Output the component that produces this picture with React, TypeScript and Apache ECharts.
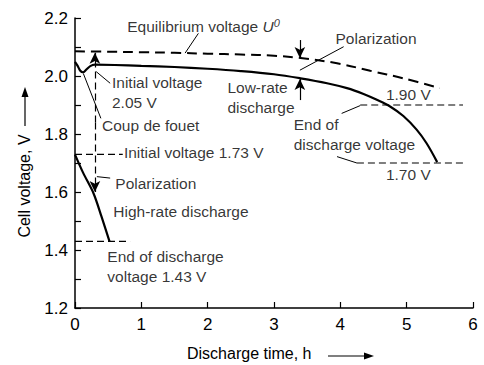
import React, { useEffect, useRef } from "react";
import * as echarts from "echarts";

const FONT = '"Liberation Sans", Arial, Helvetica, sans-serif';

// Discharge time (h) and cell voltage (V)
const lowRateTime = [0, 0.04, 0.08, 0.12, 0.17, 0.23, 0.3, 0.6, 1.0, 1.5, 2.0, 2.5, 3.0, 3.4, 3.8, 4.1, 4.35, 4.55, 4.75, 4.95, 5.15, 5.3, 5.46];
const lowRateVolt = [2.049, 2.035, 2.018, 2.013, 2.022, 2.034, 2.039, 2.038, 2.035, 2.031, 2.025, 2.017, 2.006, 1.992, 1.975, 1.958, 1.938, 1.918, 1.895, 1.862, 1.815, 1.768, 1.703];

const highRateTime = [0, 0.125, 0.28, 0.4, 0.52];
const highRateVolt = [1.729, 1.665, 1.595, 1.515, 1.43];

const equilTime = [0, 0.5, 1, 1.5, 2, 2.5, 3, 3.4, 3.95, 4.45, 4.95, 5.5];
const equilVolt = [2.085, 2.084, 2.082, 2.08, 2.077, 2.074, 2.07, 2.062, 2.044, 2.018, 1.992, 1.958];

// Dashed reference lines: [tStart, tEnd, voltage]
const refLines = [
  [0, 0.72, 1.73],
  [0, 0.83, 1.43],
  [4.3, 5.85, 1.9],
  [4.25, 5.85, 1.7],
];

// Arrows: [t1, v1, t2, v2, dashed]
const arrows = [
  [0.3, 1.84, 0.3, 2.08, 1],
  [0.3, 1.84, 0.3, 1.6, 1],
  [3.39, 2.124, 3.39, 2.062, 0],
  [3.39, 1.917, 3.39, 1.99, 0],
];

// Leader lines: [t1, v1, t2, v2]
const leaders = [
  [1.86, 2.147, 1.66, 2.079],
  [4.05, 2.101, 3.39, 2.02],
  [0.32, 2.015, 0.53, 1.975],
  [0.125, 2.009, 0.39, 1.854],
  [4.02, 1.871, 4.3, 1.898],
  [3.95, 1.722, 4.25, 1.7],
  [0.33, 1.653, 0.53, 1.648],
];

// Text annotations: [text, t, v]
const notes: [string, number, number][] = [
  ["{n|Equilibrium voltage }{i|U}{s|0}", 0.78, 2.17],
  ["Polarization", 3.92, 2.13],
  ["Initial voltage\n2.05 V", 0.55, 1.943],
  ["Coup de fouet", 0.4, 1.828],
  ["Low-rate\ndischarge", 2.29, 1.927],
  ["1.90 V", 4.68, 1.935],
  ["End of\ndischarge voltage", 3.29, 1.797],
  ["1.70 V", 4.68, 1.659],
  ["Initial voltage 1.73 V", 0.73, 1.736],
  ["Polarization", 0.6, 1.63],
  ["High-rate discharge", 0.57, 1.532],
  ["End of discharge\nvoltage 1.43 V", 0.48, 1.342],
];

const zip = (a: number[], b: number[]) => a.map((x, i) => [x, b[i]]);

export default function App() {
  const ref = useRef<HTMLDivElement>(null);
  useEffect(() => {
    if (!ref.current) return;
    document.body.style.margin = "0";
    const chart = echarts.init(ref.current, null, { renderer: "svg" });
    const black = "#000";
    const markData: any[] = [];
    leaders.forEach(([t1, v1, t2, v2]) => {
      markData.push([
        { coord: [t1, v1], symbol: "none", lineStyle: { type: "solid", width: 1, color: black } },
        { coord: [t2, v2], symbol: "none" },
      ]);
    });
    arrows.forEach(([t1, v1, t2, v2, d]) => {
      markData.push([
        { coord: [t1, v1], symbol: "none", lineStyle: { type: d ? [7, 4] : "solid", width: 1.2, color: black } },
        { coord: [t2, v2], symbol: "arrow", symbolSize: [8, 11] },
      ]);
    });

    const series: any[] = [
      {
        type: "line",
        data: zip(equilTime, equilVolt),
        symbol: "none",
        smooth: 0.35,
        lineStyle: { color: black, width: 2, type: [10, 6] },
        silent: true,
      },
      {
        type: "line",
        data: zip(lowRateTime, lowRateVolt),
        symbol: "none",
        smooth: 0.35,
        lineStyle: { color: black, width: 2.2 },
        silent: true,
        markLine: {
          silent: true,
          animation: false,
          symbol: ["none", "none"],
          label: { show: false },
          emphasis: { disabled: true },
          data: markData,
        },
      },
      {
        type: "line",
        data: zip(highRateTime, highRateVolt),
        symbol: "none",
        smooth: 0.3,
        lineStyle: { color: black, width: 2.2 },
        silent: true,
      },
      ...refLines.map(([t1, t2, v]) => ({
        type: "line",
        data: [[t1, v], [t2, v]],
        symbol: "none",
        lineStyle: { color: black, width: 1.2, type: [7, 4] },
        silent: true,
      })),
      {
        type: "scatter",
        symbolSize: 1,
        itemStyle: { color: "rgba(0,0,0,0)" },
        silent: true,
        label: {
          show: true,
          position: "right",
          distance: 0,
          color: black,
          fontFamily: FONT,
          fontSize: 15.5,
          lineHeight: 20,
          rich: {
            n: { fontFamily: FONT, fontSize: 15.5, color: black },
            i: { fontFamily: FONT, fontSize: 15.5, fontStyle: "italic", color: black },
            s: { fontFamily: FONT, fontSize: 11, fontStyle: "italic", color: black, padding: [0, 0, 8, 0] },
          },
        },
        data: notes.map(([text, t, v]) => ({
          value: [t, v],
          label: { formatter: text },
        })),
      },
    ];

    chart.setOption({
      animation: false,
      grid: { left: 75, right: 11, top: 18, bottom: 57, containLabel: false },
      xAxis: {
        type: "value",
        min: 0,
        max: 6,
        interval: 1,
        axisLine: { lineStyle: { color: black, width: 1.5 } },
        axisTick: { inside: true, length: 6, lineStyle: { color: black, width: 1.2 } },
        axisLabel: { color: black, fontSize: 17, fontFamily: FONT, margin: 8 },
        splitLine: { show: false },
      },
      yAxis: {
        type: "value",
        min: 1.2,
        max: 2.2,
        interval: 0.2,
        axisLine: { show: true, lineStyle: { color: black, width: 1.5 } },
        axisTick: { show: true, inside: true, length: 6, lineStyle: { color: black, width: 1.2 } },
        minorTick: { show: true, splitNumber: 2, length: 6, lineStyle: { color: black, width: 1.2 } },
        axisLabel: { color: black, fontSize: 17, fontFamily: FONT, margin: 7, formatter: (v: number) => v.toFixed(1) },
        splitLine: { show: false },
      },
      graphic: [
        {
          type: "text",
          left: 187,
          top: 345,
          style: { text: "Discharge time, h", font: `16px ${FONT}`, fill: black },
        },
        { type: "line", shape: { x1: 328, y1: 356, x2: 368, y2: 356 }, style: { stroke: black, lineWidth: 1.2 } },
        { type: "polygon", shape: { points: [[374, 356], [364, 352.5], [364, 359.5]] }, style: { fill: black } },
        {
          type: "text",
          x: 24,
          y: 186,
          rotation: Math.PI / 2,
          style: { text: "Cell voltage, V", font: `16px ${FONT}`, fill: black, align: "center", verticalAlign: "middle" },
        },
        { type: "line", shape: { x1: 25, y1: 126, x2: 25, y2: 93 }, style: { stroke: black, lineWidth: 1.2 } },
        { type: "polygon", shape: { points: [[25, 87], [21.5, 97], [28.5, 97]] }, style: { fill: black } },
      ],
      series,
    });
    return () => chart.dispose();
  }, []);
  return <div ref={ref} style={{ width: 484, height: 365 }} />;
}
